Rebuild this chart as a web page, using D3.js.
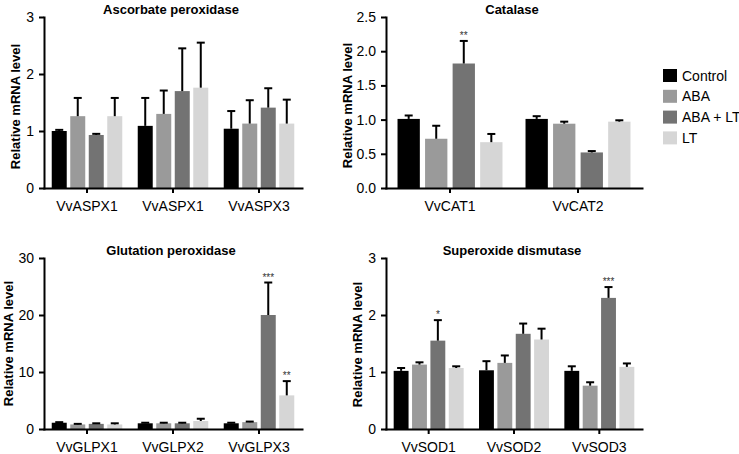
<!DOCTYPE html>
<html>
<head>
<meta charset="utf-8">
<script src="https://cdn.jsdelivr.net/npm/d3@7"></script>
<style>
  html, body { margin: 0; padding: 0; background: #fff; }
  svg { display: block; font-family: "Liberation Sans", Arial, Helvetica, sans-serif; }
</style>
</head>
<body>
<svg id="chart" width="739" height="454"></svg>
<script>
// ---- data ----
const series = ["Control", "ABA", "ABA + LT", "LT"];
const seriesColors = ["#000000", "#9a9a9a", "#737373", "#d6d6d6"];

const ascCategories = ["VvASPX1", "VvASPX1", "VvASPX3"];
const ascMeans  = [[1.00, 1.26, 0.93, 1.26], [1.09, 1.30, 1.70, 1.76], [1.04, 1.13, 1.41, 1.13]];
const ascErrors = [[0.02, 0.32, 0.02, 0.32], [0.49, 0.41, 0.75, 0.79], [0.31, 0.41, 0.34, 0.42]];
const ascSig    = [["", "", "", ""], ["", "", "", ""], ["", "", "", ""]];
const ascTicks  = [0, 1, 2, 3];

const catCategories = ["VvCAT1", "VvCAT2"];
const catMeans  = [[1.01, 0.72, 1.82, 0.67], [1.01, 0.94, 0.52, 0.97]];
const catErrors = [[0.05, 0.19, 0.33, 0.12], [0.04, 0.03, 0.02, 0.02]];
const catSig    = [["", "", "**", ""], ["", "", "", ""]];
const catTicks  = [0, 0.5, 1.0, 1.5, 2.0, 2.5];

const glpCategories = ["VvGLPX1", "VvGLPX2", "VvGLPX3"];
const glpMeans  = [[1.1, 0.8, 0.9, 0.8], [1.0, 1.0, 1.0, 1.4], [1.0, 1.2, 20.0, 5.9]];
const glpErrors = [[0.1, 0.1, 0.1, 0.2], [0.1, 0.1, 0.1, 0.4], [0.1, 0.1, 5.7, 2.5]];
const glpSig    = [["", "", "", ""], ["", "", "", ""], ["", "", "***", "**"]];
const glpTicks  = [0, 10, 20, 30];

const sodCategories = ["VvSOD1", "VvSOD2", "VvSOD3"];
const sodMeans  = [[1.02, 1.13, 1.55, 1.07], [1.03, 1.16, 1.67, 1.57], [1.02, 0.76, 2.30, 1.09]];
const sodErrors = [[0.05, 0.04, 0.36, 0.03], [0.16, 0.13, 0.18, 0.19], [0.08, 0.06, 0.19, 0.06]];
const sodSig    = [["", "", "*", ""], ["", "", "", ""], ["", "", "***", ""]];
const sodTicks  = [0, 1, 2, 3];

const yLabel = "Relative mRNA level";

// ---- layout ----
const panels = [
  { title: "Ascorbate peroxidase", cats: ascCategories, means: ascMeans, errs: ascErrors, sig: ascSig, ticks: ascTicks, fmt: d3.format("d"),   xr: [44, 302],  yr: [188, 17],  labDx: 24, labDy: 4 },
  { title: "Catalase",             cats: catCategories, means: catMeans, errs: catErrors, sig: catSig, ticks: catTicks, fmt: d3.format(".1f"), xr: [386, 642], yr: [188, 17],  labDx: 34, labDy: 3 },
  { title: "Glutation peroxidase", cats: glpCategories, means: glpMeans, errs: glpErrors, sig: glpSig, ticks: glpTicks, fmt: d3.format("d"),   xr: [44, 302],  yr: [429, 258], labDx: 31, labDy: 0 },
  { title: "Superoxide dismutase", cats: sodCategories, means: sodMeans, errs: sodErrors, sig: sodSig, ticks: sodTicks, fmt: d3.format("d"),   xr: [386, 642], yr: [429, 258], labDx: 24, labDy: 1 }
];

const svg = d3.select("#chart");

panels.forEach(p => {
  const g = svg.append("g");
  const yMax = p.ticks[p.ticks.length - 1];
  const y = d3.scaleLinear().domain([0, yMax]).range(p.yr);
  const x0 = d3.scaleBand().domain(d3.range(p.cats.length)).range(p.xr).padding(0);
  const groupW = x0.bandwidth() * 0.82;
  const x1 = d3.scaleBand().domain(d3.range(series.length)).range([0, groupW]).paddingInner(0.19);
  const offset = (x0.bandwidth() - groupW) / 2;

  // bars
  p.means.forEach((row, ci) => {
    const gg = g.append("g").attr("transform", `translate(${x0(ci) + offset},0)`);
    row.forEach((v, si) => {
      const bx = x1(si), bw = x1.bandwidth();
      gg.append("rect")
        .attr("x", bx).attr("width", bw)
        .attr("y", y(v)).attr("height", y(0) - y(v))
        .attr("fill", seriesColors[si]);
      const top = v + p.errs[ci][si];
      const cx = bx + bw / 2;
      gg.append("line")
        .attr("x1", cx).attr("x2", cx)
        .attr("y1", y(v)).attr("y2", y(top))
        .attr("stroke", "#000").attr("stroke-width", 2);
      gg.append("line")
        .attr("x1", cx - 4).attr("x2", cx + 4)
        .attr("y1", y(top)).attr("y2", y(top))
        .attr("stroke", "#000").attr("stroke-width", 2);
      const s = p.sig[ci][si];
      if (s) {
        gg.append("text")
          .attr("x", cx).attr("y", y(top) - 2)
          .attr("text-anchor", "middle")
          .attr("font-size", 10)
          .attr("fill", "#333")
          .text(s);
      }
    });
  });

  // y axis
  const yAxis = g.append("g")
    .attr("transform", `translate(${p.xr[0]},0)`)
    .call(d3.axisLeft(y).tickValues(p.ticks).tickFormat(p.fmt).tickSize(5).tickSizeOuter(0).tickPadding(5));
  // x axis
  const xAxis = g.append("g")
    .attr("transform", `translate(0,${p.yr[0]})`)
    .call(d3.axisBottom(x0).tickFormat(i => p.cats[i]).tickSize(5).tickSizeOuter(0).tickPadding(8));
  [yAxis, xAxis].forEach(a => {
    a.select(".domain").attr("stroke", "#000").attr("stroke-width", 2).attr("stroke-linecap", "square");
    a.selectAll(".tick line").attr("stroke", "#000").attr("stroke-width", 2);
    a.selectAll(".tick text").attr("fill", "#000").attr("font-size", 14)
      .attr("font-family", '"Liberation Sans", Arial, sans-serif');
  });

  // title
  g.append("text")
    .attr("x", (p.xr[0] + p.xr[1]) / 2 - 2)
    .attr("y", p.yr[1] - 3)
    .attr("text-anchor", "middle")
    .attr("font-size", 13)
    .attr("font-weight", "bold")
    .text(p.title);

  // y label
  g.append("text")
    .attr("transform", `translate(${p.xr[0] - p.labDx},${(p.yr[0] + p.yr[1]) / 2 + p.labDy}) rotate(-90)`)
    .attr("text-anchor", "middle")
    .attr("font-size", 13)
    .attr("font-weight", "bold")
    .text(yLabel);
});

// legend
const legend = svg.append("g").attr("transform", "translate(663,69)");
series.forEach((s, i) => {
  const row = legend.append("g").attr("transform", `translate(0,${i * 20.8})`);
  row.append("rect").attr("width", 14).attr("height", 13).attr("fill", seriesColors[i]);
  row.append("text").attr("x", 19).attr("y", 11.5).attr("font-size", 14).attr("fill", "#000").text(s);
});
</script>
</body>
</html>
